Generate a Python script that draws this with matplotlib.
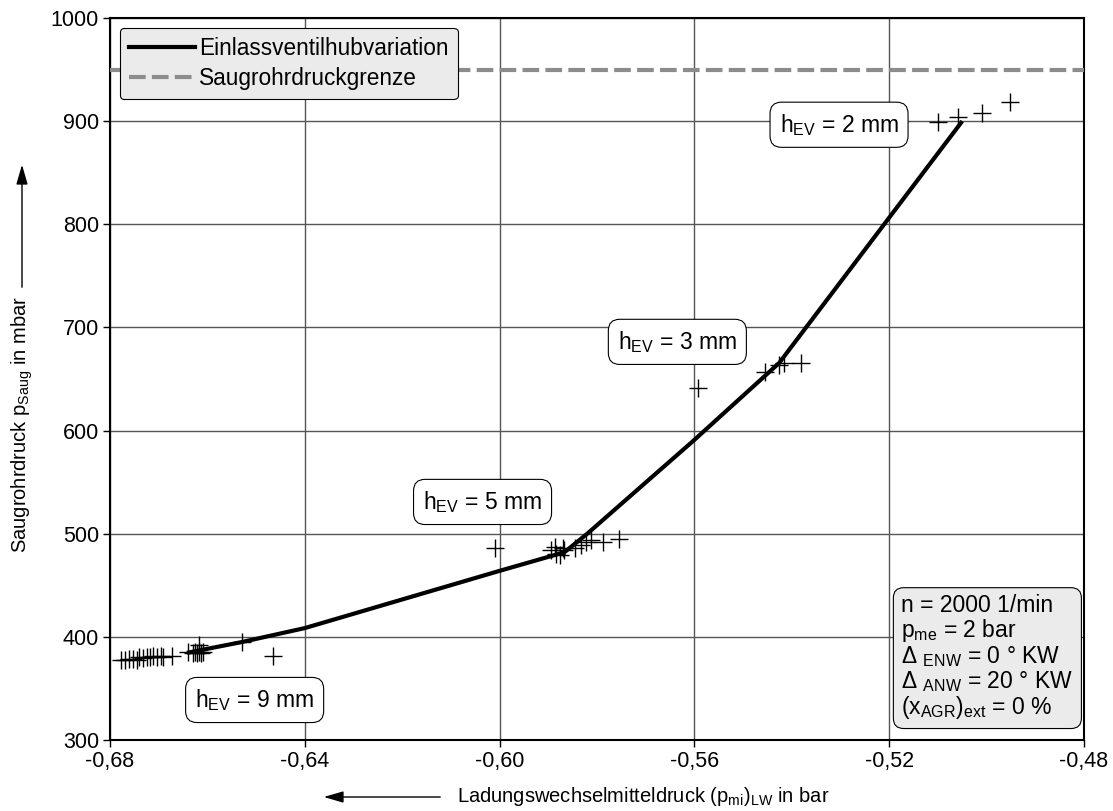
import matplotlib
matplotlib.use("Agg")
import matplotlib.pyplot as plt
from matplotlib.lines import Line2D
from matplotlib.patches import FancyArrowPatch
from matplotlib.ticker import FuncFormatter

plt.rcParams['font.family'] = ['Liberation Sans', 'DejaVu Sans']
plt.rcParams['mathtext.fontset'] = 'custom'
plt.rcParams['mathtext.rm'] = 'Liberation Sans'
plt.rcParams['mathtext.it'] = 'Liberation Sans'

# Trend line of the intake valve lift variation
line_x = [-0.6642, -0.6529, -0.6400, -0.6000, -0.5867, -0.5820, -0.5600, -0.5426, -0.5050]
line_y = [384.5, 395.0, 408.5, 464.0, 482.0, 500.0, 591.0, 665.5, 900.0]

# Measured operating points
meas_x = [-0.6778, -0.6769, -0.6760, -0.6752, -0.6744, -0.6740, -0.6733, -0.6725,
          -0.6718, -0.6711, -0.6704, -0.6695, -0.6691, -0.6673,
          -0.6640, -0.6629, -0.6626, -0.6621, -0.6617, -0.6613, -0.6609, -0.6618,
          -0.6528, -0.6466,
          -0.6010,
          -0.5894, -0.5887, -0.5877, -0.5867, -0.5884, -0.5870, -0.5846, -0.5832,
          -0.5822, -0.5812, -0.5788, -0.5754,
          -0.5593, -0.5456, -0.5426, -0.5415, -0.5381,
          -0.5099, -0.5058, -0.5009, -0.4952]
meas_y = [378.0, 377.5, 378.5, 379.0, 378.0, 380.0, 379.5, 380.5,
          380.0, 381.0, 380.5, 381.0, 380.0, 381.5,
          385.0, 384.0, 385.5, 384.5, 385.0, 384.0, 385.5, 392.0,
          395.3, 381.5,
          486.0,
          484.0, 487.5, 479.5, 484.0, 480.0, 485.7, 486.0, 489.0,
          492.0, 494.0, 492.0, 495.0,
          641.0, 657.0, 663.7, 665.4, 665.4,
          899.4, 904.3, 908.1, 918.8]

limit_y = 950.0

lift_labels = ['h$_\\mathregular{EV}$ = 2 mm', 'h$_\\mathregular{EV}$ = 3 mm',
               'h$_\\mathregular{EV}$ = 5 mm', 'h$_\\mathregular{EV}$ = 9 mm']
lift_label_x = [-0.5303, -0.5635, -0.6035, -0.6503]
lift_label_y = [896.5, 686.0, 530.8, 338.8]

x_ticks = [-0.68, -0.64, -0.60, -0.56, -0.52, -0.48]
y_ticks = [300, 400, 500, 600, 700, 800, 900, 1000]

fig = plt.figure(figsize=(11.13, 8.11), dpi=100)
ax = fig.add_axes([110 / 1113, 1 - 740 / 811, (1084 - 110) / 1113, (740 - 18) / 811])

ax.set_xlim(-0.68, -0.48)
ax.set_ylim(300, 1000)
ax.set_xticks(x_ticks)
ax.set_yticks(y_ticks)
ax.xaxis.set_major_formatter(FuncFormatter(lambda v, p: f"{v:.2f}".replace('.', ',')))
ax.tick_params(labelsize=15.5, length=5, width=1, direction='out', pad=3)
ax.grid(True, color='#555555', linewidth=1)
ax.set_axisbelow(True)
for s in ax.spines.values():
    s.set_linewidth(1.5)

ax.axhline(limit_y, color='#8c8c8c', linewidth=3, linestyle=(0, (4, 1.5)), zorder=3)
ax.plot(line_x, line_y, color='black', linewidth=3, zorder=4, solid_capstyle='butt')
ax.plot(meas_x, meas_y, linestyle='none', marker='+', markersize=13,
        markeredgewidth=1, color='black', zorder=5)

for t, lx, ly in zip(lift_labels, lift_label_x, lift_label_y):
    ax.text(lx, ly, t, fontsize=16.5, ha='center', va='center', zorder=6,
            bbox=dict(boxstyle='round,pad=0.42,rounding_size=0.5', facecolor='white',
                      edgecolor='black', linewidth=0.8))

cond = ('n = 2000 1/min\n'
        'p$_\\mathregular{me}$ = 2 bar\n'
        'Δ $_\\mathregular{ENW}$ = 0 ° KW\n'
        'Δ $_\\mathregular{ANW}$ = 20 ° KW\n'
        '(x$_\\mathregular{AGR}$)$_\\mathregular{ext}$ = 0 %')
ax.text(0.8125, 0.027, cond, transform=ax.transAxes, fontsize=16.5, ha='left', va='bottom',
        linespacing=1.0, zorder=6,
        bbox=dict(boxstyle='round,pad=0.35,rounding_size=0.45', facecolor='#ebebeb',
                  edgecolor='black', linewidth=0.8))

handles = [Line2D([], [], color='black', linewidth=3),
           Line2D([], [], color='#8c8c8c', linewidth=3, linestyle=(0, (4, 1.5)))]
leg = ax.legend(handles, ['Einlassventilhubvariation', 'Saugrohrdruckgrenze'],
                loc='upper left', fontsize=16.3, handlelength=2.9, handletextpad=0.2,
                borderaxespad=0.44, fancybox=True, framealpha=1, facecolor='#ebebeb',
                edgecolor='black', labelspacing=0.32, borderpad=0.4)
leg.get_frame().set_linewidth(0.8)
leg.set_zorder(7)

# Axis titles with direction arrows
fig.text(22 / 1113, 1 - 296 / 811, 'Saugrohrdruck p$_\\mathregular{Saug}$ in mbar',
         rotation=90, ha='center', va='top', fontsize=14.5)
fig.add_artist(FancyArrowPatch(
    (22 / 1113, 1 - 290 / 811), (22 / 1113, 1 - 162 / 811), transform=fig.transFigure,
    arrowstyle='-|>,head_length=12,head_width=3.5', mutation_scale=1, color='black', linewidth=1))

fig.text(457 / 1113, 1 - 797 / 811, 'Ladungswechselmitteldruck (p$_\\mathregular{mi}$)$_\\mathregular{LW}$ in bar',
         ha='left', va='center', fontsize=14.5)
fig.add_artist(FancyArrowPatch(
    (443 / 1113, 1 - 797 / 811), (321 / 1113, 1 - 797 / 811), transform=fig.transFigure,
    arrowstyle='-|>,head_length=12,head_width=3.5', mutation_scale=1, color='black', linewidth=1))

fig.savefig('out.png', dpi=100)
